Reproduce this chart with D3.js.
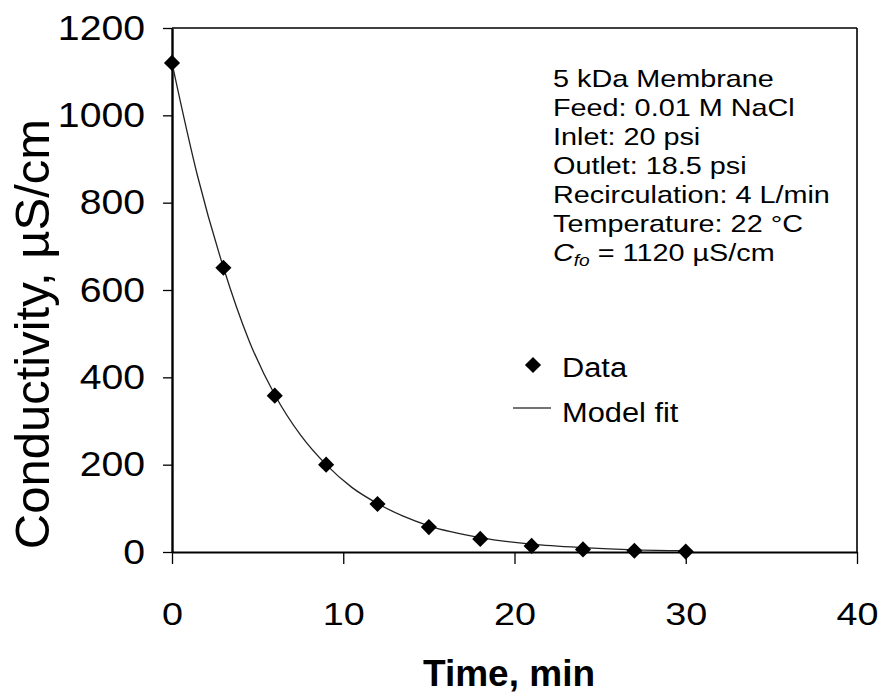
<!DOCTYPE html>
<html>
<head>
<meta charset="utf-8">
<script src="https://cdn.jsdelivr.net/npm/d3@7"></script>
<style>
  body { margin: 0; background: #fff; }
  svg { font-family: "Liberation Sans", Arial, sans-serif; }
</style>
</head>
<body>
<div id="chart"></div>
<script>
// Data
var times = [0, 3, 6, 9, 12, 15, 18, 21, 24, 27, 30];
var conductivity = [1120, 651, 358, 200, 110, 57, 30, 14, 6, 3, 1];

// Model fit curve, read at sample times
var fitTimes = [0, 1.5, 3, 4.5, 6, 7.5, 9, 10.5, 12, 13.5, 15, 18, 21, 24, 27, 30];
var fitValues = [1120, 860, 652, 484, 360, 268, 200, 148, 111, 82, 60, 33, 18, 10, 5, 3];

var xTicks = [0, 10, 20, 30, 40];
var yTicks = [0, 200, 400, 600, 800, 1000, 1200];

var notes = [
    "5 kDa Membrane",
    "Feed: 0.01 M NaCl",
    "Inlet: 20 psi",
    "Outlet: 18.5 psi",
    "Recirculation: 4 L/min",
    "Temperature: 22 \u00B0C"
];

var svgWidth = 880;
var svgHeight = 696;

var margin = {
    top: 28,
    bottom: 144,
    left: 172,
    right: 23
};

var width = svgWidth - margin.left - margin.right;
var height = svgHeight - margin.top - margin.bottom;

var svg = d3.select("#chart")
    .append("svg")
    .attr("width", svgWidth)
    .attr("height", svgHeight);

svg.append("rect")
    .attr("width", svgWidth)
    .attr("height", svgHeight)
    .attr("fill", "#fff");

var chartGroup = svg.append("g")
    .attr("transform", `translate(${margin.left}, ${margin.top})`);

var xScale = d3.scaleLinear().domain([0, 40]).range([0, width]);
var yScale = d3.scaleLinear().domain([0, 1200]).range([height, 0]);

// Frame (top and right sides)
chartGroup.append("line")
    .attr("x1", 0).attr("x2", width)
    .attr("y1", 0).attr("y2", 0)
    .attr("stroke", "#000").attr("stroke-width", 1.6);

chartGroup.append("line")
    .attr("x1", width).attr("x2", width)
    .attr("y1", 0).attr("y2", height)
    .attr("stroke", "#000").attr("stroke-width", 1.6);

// Axes
var bottomAxis = d3.axisBottom(xScale)
    .tickValues(xTicks)
    .tickFormat(d3.format("d"))
    .tickSize(12)
    .tickSizeOuter(0)
    .tickPadding(38);

var leftAxis = d3.axisLeft(yScale)
    .tickValues(yTicks)
    .tickFormat(d3.format("d"))
    .tickSize(9)
    .tickSizeOuter(0)
    .tickPadding(18);

var xAxis = chartGroup.append("g")
    .attr("transform", `translate(0, ${height})`)
    .call(bottomAxis);

var yAxis = chartGroup.append("g")
    .call(leftAxis);

xAxis.select(".domain").attr("stroke-width", 2.2);
yAxis.select(".domain").attr("stroke-width", 2.4);
xAxis.selectAll(".tick line").attr("stroke-width", 1.3);
yAxis.selectAll(".tick line").attr("stroke-width", 1.3);

xAxis.selectAll("text")
    .attr("font-size", 32)
    .attr("font-family", "Liberation Sans, Arial, sans-serif")
    .attr("fill", "#000")
    .attr("transform", "scale(1.18,1)");

yAxis.selectAll("text")
    .attr("font-size", 35)
    .attr("font-family", "Liberation Sans, Arial, sans-serif")
    .attr("fill", "#000")
    .attr("x", 0)
    .attr("transform", "translate(-27,0) scale(1.12,1)");

// Axis titles
chartGroup.append("text")
    .attr("x", 337)
    .attr("y", 686 - margin.top)
    .attr("text-anchor", "middle")
    .attr("font-size", 37)
    .attr("font-weight", "bold")
    .text("Time, min");

chartGroup.append("text")
    .attr("transform", "rotate(-90)")
    .attr("x", -(334 - margin.top))
    .attr("y", 49 - margin.left)
    .attr("text-anchor", "middle")
    .attr("font-size", 49)
    .text("Conductivity, \u00B5S/cm");

// Model fit line
var fitData = fitTimes.map(function(t, i) { return { t: t, v: fitValues[i] }; });

var fitLine = d3.line()
    .x(d => xScale(d.t))
    .y(d => yScale(d.v))
    .curve(d3.curveMonotoneX);

chartGroup.append("path")
    .datum(fitData)
    .attr("d", fitLine)
    .attr("fill", "none")
    .attr("stroke", "#222")
    .attr("stroke-width", 1.3);

// Data points (diamonds)
var diamond = d3.symbol().type(d3.symbolSquare).size(130);

chartGroup.selectAll(".pt")
    .data(times)
    .enter()
    .append("path")
    .attr("class", "pt")
    .attr("d", diamond)
    .attr("transform", (d, i) => `translate(${xScale(d)}, ${yScale(conductivity[i])}) rotate(45)`)
    .attr("fill", "#000");

// Annotation block
var noteGroup = svg.append("g");

noteGroup.selectAll("text")
    .data(notes)
    .enter()
    .append("text")
    .attr("transform", (d, i) => `translate(553, ${87 + i * 29}) scale(1.2,1)`)
    .attr("font-size", 24)
    .text(d => d);

var cfo = noteGroup.append("text")
    .attr("transform", `translate(553, ${87 + 6 * 29}) scale(1.2,1)`)
    .attr("font-size", 24);
cfo.append("tspan").attr("font-style", "italic").text("C");
cfo.append("tspan").attr("font-style", "italic").attr("font-size", 16).attr("dy", 5).text("fo");
cfo.append("tspan").attr("dy", -5).text(" = 1120 \u00B5S/cm");

// Legend
var legend = svg.append("g");

legend.append("path")
    .attr("d", diamond)
    .attr("transform", "translate(533, 365) rotate(45)")
    .attr("fill", "#000");

legend.append("text")
    .attr("transform", "translate(562, 377) scale(1.1,1)")
    .attr("font-size", 28)
    .text("Data");

legend.append("line")
    .attr("x1", 513).attr("x2", 551)
    .attr("y1", 408).attr("y2", 408)
    .attr("stroke", "#444")
    .attr("stroke-width", 1.3);

legend.append("text")
    .attr("transform", "translate(562, 422) scale(1.1,1)")
    .attr("font-size", 28)
    .text("Model fit");
</script>
</body>
</html>
